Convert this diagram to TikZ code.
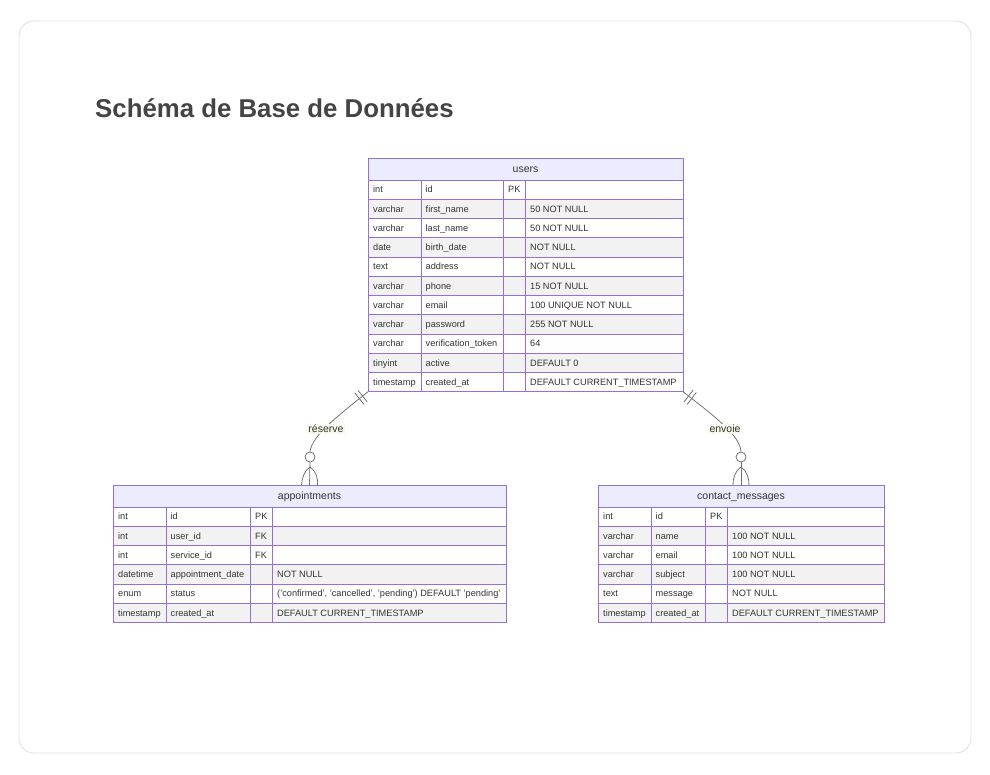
\documentclass[tikz,border=0pt]{standalone}
\usepackage{fontspec}
\setmainfont{Liberation Sans}
\usetikzlibrary{calc}
\definecolor{bd}{HTML}{9370DB}
\definecolor{hd}{HTML}{ECECFF}
\definecolor{rowg}{HTML}{F2F2F2}
\definecolor{txt}{HTML}{333333}
\definecolor{ttl}{HTML}{444444}
\definecolor{cardb}{HTML}{E2E2E2}
\definecolor{relc}{HTML}{6E6E6E}
\definecolor{lblbg}{HTML}{F8F9EA}
\tikzset{
  hdr/.style={draw=bd, fill=hd, line width=0.9pt},
  cellb/.style={draw=bd, line width=0.9pt},
  htext/.style={text=txt, font=\fontsize{10.5}{12}\selectfont, inner sep=0pt, anchor=base},
  ctext/.style={text=txt, font=\fontsize{9.2}{11}\selectfont, inner sep=0pt, anchor=base west},
  rel/.style={draw=relc, line width=0.75pt},
  lbl/.style={fill=lblbg, text=txt, font=\fontsize{10.5}{12}\selectfont, inner sep=1.5pt},
  crc/.style={circle, draw=relc, line width=0.75pt, fill=white, minimum size=10pt, inner sep=0pt},
}
\newcommand{\ertable}[4]{%
  \draw[hdr] (\cA,#3) rectangle (\cE,#3+22);
  \pgfmathsetmacro\xm{(\cA+\cE)/2}
  \node[htext] at (\xm,#3+14.5) {#2};
  \foreach \ta/\na/\ka/\ca [count=\i] in {#4} {
    \pgfmathsetmacro\ya{#3+22+(\i-1)*19.25}
    \pgfmathsetmacro\yb{\ya+19.25}
    \pgfmathsetmacro\ym{\ya+12.8}
    \ifodd\i\relax\def\rf{white}\else\def\rf{rowg}\fi
    \draw[cellb, fill=\rf] (\cA,\ya) rectangle (\cB,\yb);
    \draw[cellb, fill=\rf] (\cB,\ya) rectangle (\cC,\yb);
    \draw[cellb, fill=\rf] (\cC,\ya) rectangle (\cD,\yb);
    \draw[cellb, fill=\rf] (\cD,\ya) rectangle (\cE,\yb);
    \node[ctext] at (\cA+5,\ym) {\ta};
    \node[ctext] at (\cB+4.5,\ym) {\na};
    \node[ctext] at (\cC+5,\ym) {\ka};
    \node[ctext] at (\cD+5,\ym) {\ca};
    \xdef\ylast{\yb}
  }
  \coordinate (#1-nw) at (\cA,#3);
  \coordinate (#1-n) at (\xm,#3);
  \coordinate (#1-sw) at (\cA,\ylast);
  \coordinate (#1-se) at (\cE,\ylast);
}
\begin{document}
\begin{tikzpicture}[x=1pt,y=-1pt]
\useasboundingbox (0,0) rectangle (990,774);
\fill[white] (0,0) rectangle (990,774);
\draw[cardb, line width=0.9pt, rounded corners=15pt] (19,21) rectangle (971,753);
\node[anchor=base west, inner sep=0pt, text=ttl, font=\fontsize{25.8}{30}\selectfont\bfseries] (title) at (95,117) {Schéma de Base de Données};

% users
\def\cA{368}\def\cB{421}\def\cC{503}\def\cD{525}\def\cE{683}
\ertable{users}{users}{158}{int/id/PK/{},
  varchar/first\_name//50 NOT NULL,
  varchar/last\_name//50 NOT NULL,
  date/birth\_date//NOT NULL,
  text/address//NOT NULL,
  varchar/phone//15 NOT NULL,
  varchar/email//100 UNIQUE NOT NULL,
  varchar/password//255 NOT NULL,
  varchar/verification\_token//64,
  tinyint/active//DEFAULT 0,
  timestamp/created\_at//DEFAULT CURRENT\_TIMESTAMP}

% appointments
\def\cA{113}\def\cB{166}\def\cC{250}\def\cD{272}\def\cE{506}
\ertable{appt}{appointments}{485}{int/id/PK/{},
  int/user\_id/FK/{},
  int/service\_id/FK/{},
  datetime/appointment\_date//NOT NULL,
  enum/status//{('confirmed', 'cancelled', 'pending') DEFAULT 'pending'},
  timestamp/created\_at//DEFAULT CURRENT\_TIMESTAMP}

% contact_messages
\def\cA{598}\def\cB{651}\def\cC{705}\def\cD{727}\def\cE{884}
\ertable{cm}{contact\_messages}{485}{int/id/PK/{},
  varchar/name//100 NOT NULL,
  varchar/email//100 NOT NULL,
  varchar/subject//100 NOT NULL,
  text/message//NOT NULL,
  timestamp/created\_at//DEFAULT CURRENT\_TIMESTAMP}

% relation users -> appointments
\coordinate (lk1) at (335,418);
\coordinate (lk2) at (312,436);
\node[crc] (lc) at (310,457) {};
\draw[rel] (users-sw) .. controls (lk1) and (lk2) .. (lc.north);
\draw[rel] (lc.south) -- (appt-n);
\coordinate (lf) at (310,467);
\draw[rel] (lf) .. controls (304,471) and (302,478) .. ($(appt-n)+(-8,0)$);
\draw[rel] (lf) .. controls (316,471) and (318,478) .. ($(appt-n)+(8,0)$);
\path ($(users-sw)!7pt!(lk1)$) coordinate (lb1) ($(users-sw)!11pt!(lk1)$) coordinate (lb2);
\draw[rel] ($(lb1)!7.5pt!90:(users-sw)$) -- ($(lb1)!7.5pt!-90:(users-sw)$);
\draw[rel] ($(lb2)!7.5pt!90:(users-sw)$) -- ($(lb2)!7.5pt!-90:(users-sw)$);
\node[lbl] (lres) at (326,429) {réserve};

% relation users -> contact_messages
\coordinate (rk1) at (717,418);
\coordinate (rk2) at (740,436);
\node[crc] (rc) at (741,457) {};
\draw[rel] (users-se) .. controls (rk1) and (rk2) .. (rc.north);
\draw[rel] (rc.south) -- (cm-n);
\coordinate (rf) at (741,467);
\draw[rel] (rf) .. controls (735,471) and (733,478) .. ($(cm-n)+(-8,0)$);
\draw[rel] (rf) .. controls (747,471) and (749,478) .. ($(cm-n)+(8,0)$);
\path ($(users-se)!7pt!(rk1)$) coordinate (rb1) ($(users-se)!11pt!(rk1)$) coordinate (rb2);
\draw[rel] ($(rb1)!7.5pt!90:(users-se)$) -- ($(rb1)!7.5pt!-90:(users-se)$);
\draw[rel] ($(rb2)!7.5pt!90:(users-se)$) -- ($(rb2)!7.5pt!-90:(users-se)$);
\node[lbl] (lenv) at (725,429) {envoie};
\end{tikzpicture}
\end{document}
